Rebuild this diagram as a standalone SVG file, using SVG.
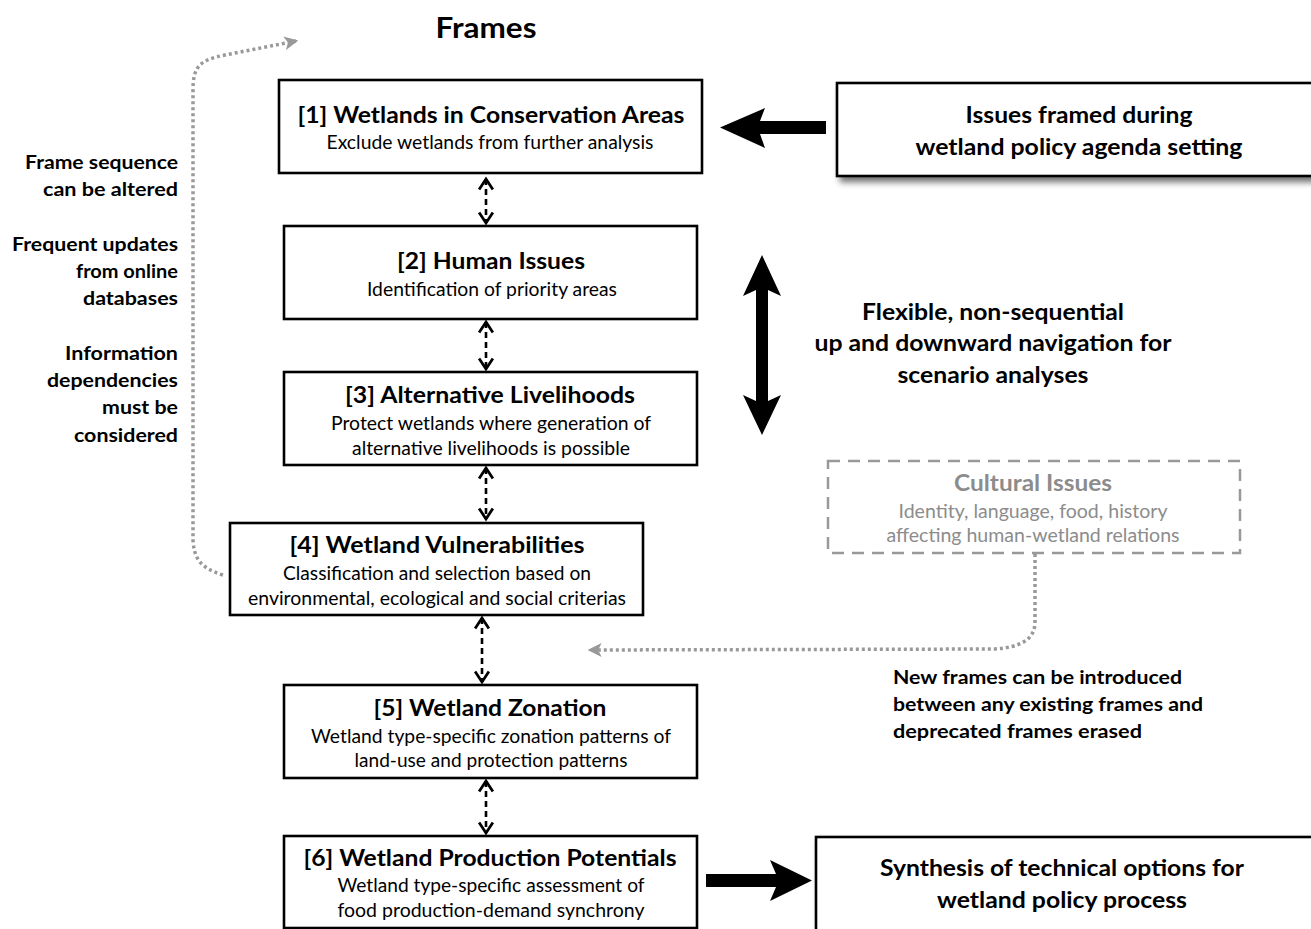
<svg xmlns="http://www.w3.org/2000/svg" width="1311" height="929" viewBox="0 0 1311 929">
  <style>
    text { font-family: Lato, "Open Sans", "Liberation Sans", sans-serif; text-anchor: middle; fill: #000; }
    .t { font-weight: bold; font-size: 23px; }
    .s { font-size: 18.5px; }
    .nl { font-weight: bold; font-size: 18.5px; text-anchor: end; }
    .nr { font-weight: bold; font-size: 18.5px; text-anchor: start; }
    .hd { font-weight: bold; font-size: 28px; }
    .box { fill: #fff; stroke: #000; stroke-width: 2.6; }
    .gbox { fill: #fff; stroke: #999; stroke-width: 2.5; stroke-dasharray: 12 8; }
    .gt { fill: #8c8c8c; }
    .dash { fill: none; stroke: #000; stroke-width: 2.6; stroke-dasharray: 6 4; }
    .dot { fill: none; stroke: #999; stroke-width: 3.5; stroke-dasharray: 3 3; }
    .big { fill: #000; }
  </style>
  <defs>
    <marker id="chev" markerUnits="userSpaceOnUse" markerWidth="16" markerHeight="18" viewBox="-2 -2 14 17" refX="10" refY="6.5" orient="auto-start-reverse">
      <path d="M0,0 L10,6.5 L0,13" fill="none" stroke="#000" stroke-width="2.6" stroke-dasharray="none"/>
    </marker>
    <marker id="gtri" markerUnits="userSpaceOnUse" markerWidth="14" markerHeight="14" viewBox="0 0 12 12" refX="10" refY="6" orient="auto">
      <path d="M0,0 L12,6 L0,12 L3,6 Z" fill="#999"/>
    </marker>
    <filter id="shadow" x="-10%" y="-20%" width="125%" height="150%">
      <feDropShadow dx="4" dy="5" stdDeviation="3" flood-color="#000" flood-opacity="0.55"/>
    </filter>
  </defs>

  <text class="hd" x="486" y="38" textLength="101" lengthAdjust="spacingAndGlyphs">Frames</text>

  <!-- side notes -->
  <g id="notes-left">
    <text class="nl" x="178" y="169" textLength="153" lengthAdjust="spacingAndGlyphs">Frame sequence</text>
    <text class="nl" x="178" y="196" textLength="135" lengthAdjust="spacingAndGlyphs">can be altered</text>
    <text class="nl" x="178" y="251" textLength="166" lengthAdjust="spacingAndGlyphs">Frequent updates</text>
    <text class="nl" x="178" y="278" textLength="102" lengthAdjust="spacingAndGlyphs">from online</text>
    <text class="nl" x="178" y="305" textLength="95" lengthAdjust="spacingAndGlyphs">databases</text>
    <text class="nl" x="178" y="360" textLength="113" lengthAdjust="spacingAndGlyphs">Information</text>
    <text class="nl" x="178" y="387" textLength="131" lengthAdjust="spacingAndGlyphs">dependencies</text>
    <text class="nl" x="178" y="414" textLength="76" lengthAdjust="spacingAndGlyphs">must be</text>
    <text class="nl" x="178" y="442" textLength="104" lengthAdjust="spacingAndGlyphs">considered</text>
  </g>

  <g id="note-flexible">
    <text class="t" x="993" y="320" textLength="262" lengthAdjust="spacingAndGlyphs">Flexible, non-sequential</text>
    <text class="t" x="993" y="351" textLength="357" lengthAdjust="spacingAndGlyphs">up and downward navigation for</text>
    <text class="t" x="993" y="383" textLength="191" lengthAdjust="spacingAndGlyphs">scenario analyses</text>
  </g>

  <g id="note-new-frames">
    <text class="nr" x="893" y="684" textLength="289" lengthAdjust="spacingAndGlyphs">New frames can be introduced</text>
    <text class="nr" x="893" y="711" textLength="310" lengthAdjust="spacingAndGlyphs">between any existing frames and</text>
    <text class="nr" x="893" y="738" textLength="249" lengthAdjust="spacingAndGlyphs">deprecated frames erased</text>
  </g>

  <!-- connectors -->
  <g id="connectors">
    <line class="dash" x1="486" y1="179" x2="486" y2="223" marker-start="url(#chev)" marker-end="url(#chev)"/>
    <line class="dash" x1="486" y1="322" x2="486" y2="369" marker-start="url(#chev)" marker-end="url(#chev)"/>
    <line class="dash" x1="486" y1="468" x2="486" y2="519" marker-start="url(#chev)" marker-end="url(#chev)"/>
    <line class="dash" x1="482" y1="618" x2="482" y2="682" marker-start="url(#chev)" marker-end="url(#chev)"/>
    <line class="dash" x1="486" y1="781" x2="486" y2="833" marker-start="url(#chev)" marker-end="url(#chev)"/>

    <path class="dot" d="M223,575 C200,568 194,558 193,540 L193,90 C193,66 200,60 225,55 L296,41" marker-end="url(#gtri)"/>
    <path class="dot" d="M1035,554 L1035,622 C1035,640 1020,647 995,649 L590,650" marker-end="url(#gtri)"/>

    <!-- heavy arrows -->
    <path class="big" d="M826,121 L760,121 L765,108 L720,127.5 L765,148 L760,134 L826,134 Z"/>
    <path class="big" d="M756,290 L743,296 L762,255 L781,296 L768,290 L768,401 L781,395 L762,435 L743,395 L756,401 Z"/>
    <path class="big" d="M706,874 L776,874 L770,860 L812,880.5 L770,901 L776,887 L706,887 Z"/>
  </g>

  <g id="frame-1">
    <rect class="box" x="279" y="80" width="423" height="93"/>
    <text class="t" x="491" y="123" textLength="387" lengthAdjust="spacingAndGlyphs">[1] Wetlands in Conservation Areas</text>
    <text class="s" x="490" y="149" textLength="327" lengthAdjust="spacingAndGlyphs">Exclude wetlands from further analysis</text>
  </g>

  <g id="frame-2">
    <rect class="box" x="284" y="226" width="413" height="93"/>
    <text class="t" x="491" y="269" textLength="188" lengthAdjust="spacingAndGlyphs">[2] Human Issues</text>
    <text class="s" x="492" y="296" textLength="250" lengthAdjust="spacingAndGlyphs">Identification of priority areas</text>
  </g>

  <g id="frame-3">
    <rect class="box" x="284" y="372" width="413" height="93"/>
    <text class="t" x="490" y="403" textLength="290" lengthAdjust="spacingAndGlyphs">[3] Alternative Livelihoods</text>
    <text class="s" x="491" y="430" textLength="320" lengthAdjust="spacingAndGlyphs">Protect wetlands where generation of</text>
    <text class="s" x="491" y="455" textLength="278" lengthAdjust="spacingAndGlyphs">alternative livelihoods is possible</text>
  </g>

  <g id="frame-4">
    <rect class="box" x="230" y="523" width="413" height="92"/>
    <text class="t" x="437" y="553" textLength="295" lengthAdjust="spacingAndGlyphs">[4] Wetland Vulnerabilities</text>
    <text class="s" x="437" y="580" textLength="308" lengthAdjust="spacingAndGlyphs">Classification and selection based on</text>
    <text class="s" x="437" y="605" textLength="378" lengthAdjust="spacingAndGlyphs">environmental, ecological and social criterias</text>
  </g>

  <g id="frame-5">
    <rect class="box" x="284" y="685" width="413" height="93"/>
    <text class="t" x="490" y="716" textLength="233" lengthAdjust="spacingAndGlyphs">[5] Wetland Zonation</text>
    <text class="s" x="491" y="743" textLength="360" lengthAdjust="spacingAndGlyphs">Wetland type-specific zonation patterns of</text>
    <text class="s" x="491" y="767" textLength="273" lengthAdjust="spacingAndGlyphs">land-use and protection patterns</text>
  </g>

  <g id="frame-6">
    <rect class="box" x="284" y="836" width="413" height="92"/>
    <text class="t" x="490" y="866" textLength="373" lengthAdjust="spacingAndGlyphs">[6] Wetland Production Potentials</text>
    <text class="s" x="491" y="892" textLength="307" lengthAdjust="spacingAndGlyphs">Wetland type-specific assessment of</text>
    <text class="s" x="491" y="917" textLength="307" lengthAdjust="spacingAndGlyphs">food production-demand synchrony</text>
  </g>

  <g id="agenda-issues">
    <rect class="box" x="837" y="83" width="480" height="93" filter="url(#shadow)"/>
    <text class="t" x="1079" y="123" textLength="227" lengthAdjust="spacingAndGlyphs">Issues framed during</text>
    <text class="t" x="1079" y="155" textLength="327" lengthAdjust="spacingAndGlyphs">wetland policy agenda setting</text>
  </g>

  <g id="cultural-issues">
    <rect class="gbox" x="828" y="461" width="412" height="92"/>
    <text class="t gt" x="1033" y="491" textLength="158" lengthAdjust="spacingAndGlyphs">Cultural Issues</text>
    <text class="s gt" x="1033" y="518" textLength="269" lengthAdjust="spacingAndGlyphs">Identity, language, food, history</text>
    <text class="s gt" x="1033" y="542" textLength="293" lengthAdjust="spacingAndGlyphs">affecting human-wetland relations</text>
  </g>

  <g id="synthesis">
    <rect class="box" x="816" y="837" width="500" height="96" filter="url(#shadow)"/>
    <text class="t" x="1062" y="876" textLength="364" lengthAdjust="spacingAndGlyphs">Synthesis of technical options for</text>
    <text class="t" x="1062" y="908" textLength="250" lengthAdjust="spacingAndGlyphs">wetland policy process</text>
  </g>
</svg>
